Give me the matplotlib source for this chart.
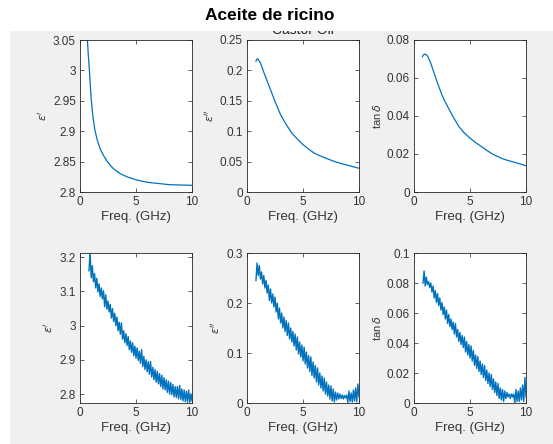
import numpy as np
import matplotlib
matplotlib.use('Agg')
import matplotlib.pyplot as plt
from matplotlib.patches import Rectangle
from matplotlib.ticker import FormatStrFormatter

plt.rcParams['font.family'] = ['Liberation Sans', 'DejaVu Sans']
plt.rcParams['mathtext.fontset'] = 'dejavusans'

# --- top row: smooth model fit ---
fit_eps1_f = [0.6, 0.66, 0.75, 0.84, 0.92, 1.0, 1.15, 1.34, 1.55, 1.8, 2.1, 2.4, 2.7,
              3.0, 3.3, 3.6, 4.2, 5.0, 6.0, 7.0, 8.0, 9.0, 10.0]
fit_eps1 = [3.07, 3.05, 3.023, 3.0, 2.975, 2.953, 2.924, 2.901, 2.885, 2.871, 2.86, 2.851, 2.844,
            2.838, 2.834, 2.83, 2.825, 2.82, 2.816, 2.814, 2.812, 2.8115, 2.811]

fit_eps2_f = [0.8, 0.85, 0.9, 0.95, 1.0, 1.1, 1.2, 1.35, 1.5, 1.75, 2.0, 2.25, 2.5, 2.75,
              3.0, 3.5, 4.0, 4.5, 5.0, 5.5, 6.0, 6.5, 7.0, 7.5, 8.0, 8.5, 9.0, 9.5, 10.0]
fit_eps2 = [0.215, 0.2175, 0.219, 0.2188, 0.218, 0.2155, 0.212, 0.205, 0.197, 0.185, 0.173,
            0.161, 0.149, 0.138, 0.127, 0.111, 0.097, 0.087, 0.078, 0.0705, 0.064, 0.0597,
            0.056, 0.0523, 0.049, 0.0463, 0.044, 0.0414, 0.039]

fit_tan_f = [0.75, 0.85, 0.96, 1.05, 1.2, 1.35, 1.5, 1.75, 2.0, 2.25, 2.5, 2.75, 3.0, 3.5,
             4.0, 4.5, 5.0, 5.5, 6.0, 6.5, 7.0, 7.5, 8.0, 8.5, 9.0, 9.5, 10.0]
fit_tan = [0.0712, 0.0722, 0.0726, 0.0724, 0.0716, 0.0698, 0.0677, 0.0634, 0.059, 0.0549,
           0.051, 0.0478, 0.045, 0.0395, 0.0345, 0.031, 0.0284, 0.026, 0.024, 0.0219, 0.020,
           0.0186, 0.0173, 0.0164, 0.0156, 0.0147, 0.0138]

# --- bottom row: measured (0.8 .. 10 GHz, 0.1 GHz step) ---
meas_f = np.linspace(0.8, 10.0, 93)
meas_eps1 = [
    3.160, 3.215, 3.140, 3.175, 3.128, 3.152, 3.110, 3.138, 3.098, 3.122,
    3.085, 3.110, 3.078, 3.102, 3.055, 3.090, 3.048, 3.072, 3.040, 3.062,
    3.022, 3.050, 3.012, 3.036, 3.000, 3.025, 2.985, 3.010, 2.975, 3.008,
    2.960, 2.985, 2.950, 2.976, 2.942, 2.968, 2.930, 2.955, 2.922, 2.950,
    2.912, 2.940, 2.905, 2.935, 2.898, 2.925, 2.890, 2.930, 2.880, 2.910,
    2.872, 2.900, 2.865, 2.895, 2.858, 2.895, 2.850, 2.878, 2.842, 2.872,
    2.835, 2.866, 2.830, 2.860, 2.822, 2.855, 2.815, 2.848, 2.812, 2.842,
    2.805, 2.838, 2.800, 2.834, 2.798, 2.828, 2.792, 2.822, 2.790, 2.822,
    2.786, 2.825, 2.784, 2.815, 2.780, 2.812, 2.778, 2.808, 2.776, 2.812,
    2.776, 2.800, 2.780,
]
meas_eps2 = [
    0.245, 0.280, 0.255, 0.275, 0.248, 0.262, 0.238, 0.255, 0.230, 0.245,
    0.220, 0.236, 0.205, 0.228, 0.200, 0.218, 0.192, 0.212, 0.182, 0.200,
    0.168, 0.190, 0.160, 0.180, 0.150, 0.172, 0.143, 0.165, 0.135, 0.160,
    0.128, 0.150, 0.122, 0.143, 0.114, 0.138, 0.106, 0.132, 0.098, 0.122,
    0.092, 0.116, 0.084, 0.112, 0.078, 0.102, 0.070, 0.095, 0.063, 0.092,
    0.055, 0.082, 0.050, 0.075, 0.042, 0.070, 0.036, 0.060, 0.030, 0.054,
    0.024, 0.050, 0.018, 0.042, 0.014, 0.036, 0.008, 0.034, 0.004, 0.028,
    0.002, 0.022, 0.006, 0.020, 0.008, 0.018, 0.009, 0.016, 0.008, 0.015,
    0.010, 0.016, 0.001, 0.024, 0.003, 0.020, 0.002, 0.026, 0.004, 0.030,
    0.002, 0.038, 0.012,
]
meas_tan = [
    0.080, 0.088, 0.078, 0.084, 0.079, 0.081, 0.077, 0.080, 0.074, 0.078,
    0.070, 0.075, 0.067, 0.073, 0.065, 0.070, 0.062, 0.067, 0.059, 0.064,
    0.056, 0.062, 0.053, 0.059, 0.051, 0.056, 0.049, 0.054, 0.046, 0.053,
    0.044, 0.049, 0.041, 0.047, 0.039, 0.045, 0.037, 0.044, 0.034, 0.041,
    0.032, 0.039, 0.030, 0.038, 0.028, 0.035, 0.025, 0.032, 0.023, 0.031,
    0.021, 0.028, 0.019, 0.026, 0.017, 0.025, 0.015, 0.022, 0.013, 0.020,
    0.011, 0.019, 0.009, 0.016, 0.007, 0.014, 0.005, 0.013, 0.003, 0.010,
    0.002, 0.009, 0.001, 0.008, 0.003, 0.007, 0.004, 0.006, 0.003, 0.006,
    0.004, 0.006, 0.000, 0.009, 0.001, 0.008, 0.001, 0.010, 0.002, 0.012,
    0.001, 0.017, 0.004,
]

YLAB = [r"$\epsilon'$", r"$\epsilon''$", r"tan$\,\delta$"]
COL = '#0072BD'
TXT = '#333333'

W, H = 553, 444
fig = plt.figure(figsize=(W / 100, H / 100), dpi=100)
fig.patch.set_facecolor('white')
fig.patches.append(Rectangle((10 / W, 0), 1 - 10 / W, (H - 31) / H,
                             transform=fig.transFigure, facecolor='#F0F0F0',
                             edgecolor='none', zorder=-5))

lefts = [80, 247, 414]
rows = [(40, 192), (253, 403)]

panels = [
    [(fit_eps1_f, fit_eps1, (2.8, 3.05), np.arange(2.8, 3.051, 0.05)),
     (fit_eps2_f, fit_eps2, (0, 0.25), np.arange(0, 0.251, 0.05)),
     (fit_tan_f, fit_tan, (0, 0.08), np.arange(0, 0.081, 0.02))],
    [(meas_f, meas_eps1, (2.774, 3.212), np.arange(2.8, 3.21, 0.1)),
     (meas_f, meas_eps2, (0, 0.3), np.arange(0, 0.31, 0.1)),
     (meas_f, meas_tan, (0, 0.1), np.arange(0, 0.101, 0.02))],
]

for r, (top, bot) in enumerate(rows):
    for c, left in enumerate(lefts):
        f, y, ylim, yt = panels[r][c]
        ax = fig.add_axes([left / W, (H - bot) / H, 112 / W, (bot - top) / H])
        ax.plot(f, y, color=COL, lw=0.9 if r == 0 else 1.0)
        ax.set_xlim(0, 10)
        ax.set_ylim(*ylim)
        ax.set_xticks([0, 5, 10])
        ax.set_yticks(yt)
        ax.xaxis.set_major_formatter(FormatStrFormatter('%g'))
        ax.yaxis.set_major_formatter(FormatStrFormatter('%g'))
        ax.tick_params(direction='in', length=3, width=0.5, top=True, right=True,
                       labelsize=8.5, colors='#262626', labelcolor=TXT, pad=3)
        for s in ax.spines.values():
            s.set_linewidth(0.6)
            s.set_color('#262626')
        ax.set_xlabel('Freq. (GHz)', fontsize=9.5, color=TXT, labelpad=2)
        ax.set_ylabel(YLAB[c], fontsize=8, color=TXT, labelpad=3)

fig.text(303 / W, (H - 34) / H, 'Castor Oil', ha='center', va='baseline',
         fontsize=10, color='#222222', zorder=1)
fig.patches.append(Rectangle((10 / W, (H - 31) / H), 1, 31 / H,
                             transform=fig.transFigure, facecolor='white',
                             edgecolor='none', zorder=5))
fig.text(270 / W, (H - 16) / H, 'Aceite de ricino', ha='center', va='center',
         fontsize=12.5, fontweight='bold', color='black', zorder=10)

fig.savefig('out.png', dpi=100, facecolor='white')
